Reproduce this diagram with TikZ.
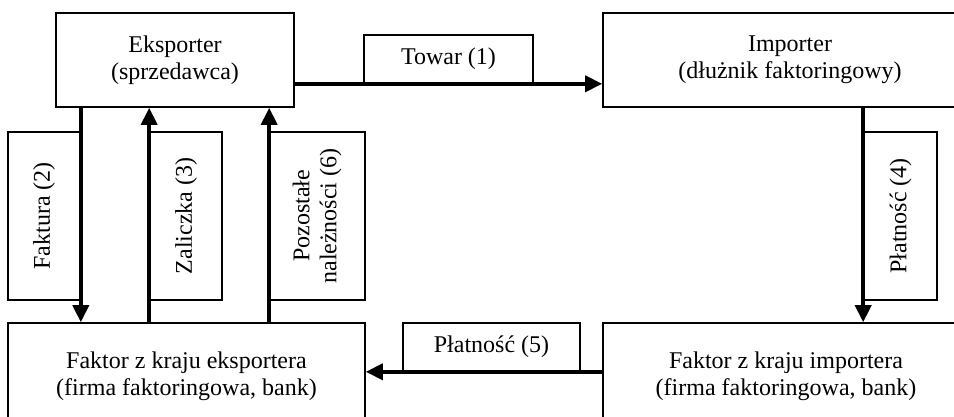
\documentclass[tikz,border=0pt]{standalone}
\usepackage{fontspec}
\setmainfont{Liberation Serif}
\usetikzlibrary{arrows.meta}

\begin{document}
\begin{tikzpicture}[x=1pt,y=-1pt,
party/.style={rectangle, draw, line width=1.6pt, align=center, inner sep=0pt,
  font=\fontsize{24}{27}\selectfont},
tag/.style={rectangle, draw, line width=1.6pt, align=center, inner sep=0pt,
  font=\fontsize{24}{27}\selectfont},
flow/.style={line width=3.6pt, -{Triangle[length=17pt,width=16pt]}}]

%% local variables
\def \bh {94}
\def \fh {106}
\def \th {168}

\path[use as bounding box] (0,0) rectangle (954,416);
\clip (0,0) rectangle (954,416);

%% the four parties
\node[party, minimum width=238, minimum height=\bh] (exp) at (175,60)
      {Eksporter\\(sprzedawca)};
\node[party, minimum width=374, minimum height=\bh] (imp) at (790,60)
      {Importer\\(dłużnik faktoringowy)};
\node[party, minimum width=357, minimum height=\fh] (fexp) at (186.5,376)
      {Faktor z kraju eksportera\\(firma faktoringowa, bank)};
\node[party, minimum width=366, minimum height=\fh] (fimp) at (786,376)
      {Faktor z kraju importera\\(firma faktoringowa, bank)};

%% label boxes of the flows
\node[tag, minimum width=169, minimum height=48] (towar) at (448.5,59) {Towar (1)};
\node[tag, minimum width=72, minimum height=\th] (faktura) at (44,216)
      {\rotatebox{90}{Faktura (2)}};
\node[tag, minimum width=72, minimum height=\th] (zal) at (186,216)
      {\rotatebox{90}{Zaliczka (3)}};
\node[tag, minimum width=95, minimum height=\th] (poz) at (317.5,216)
      {\rotatebox{90}{\begin{tabular}{@{}c@{}}Pozostałe\\należności (6)\end{tabular}}};
\node[tag, minimum width=73, minimum height=\th] (plat4) at (900.5,216)
      {\rotatebox{90}{Płatność (4)}};
\node[tag, minimum width=177, minimum height=48] (plat5) at (491.5,347) {Płatność (5)};

%% place all flows
\draw[flow] (exp.east |- towar.south) -- (imp.west |- towar.south);
\draw[flow] (faktura.east |- exp.south) -- (faktura.east |- fexp.north);
\draw[flow] (zal.west |- fexp.north) -- (zal.west |- exp.south);
\draw[flow] (poz.west |- fexp.north) -- (poz.west |- exp.south);
\draw[flow] (plat4.west |- imp.south) -- (plat4.west |- fimp.north);
\draw[flow] (fimp.west |- plat5.south) -- (fexp.east |- plat5.south);

\end{tikzpicture}
\end{document}
